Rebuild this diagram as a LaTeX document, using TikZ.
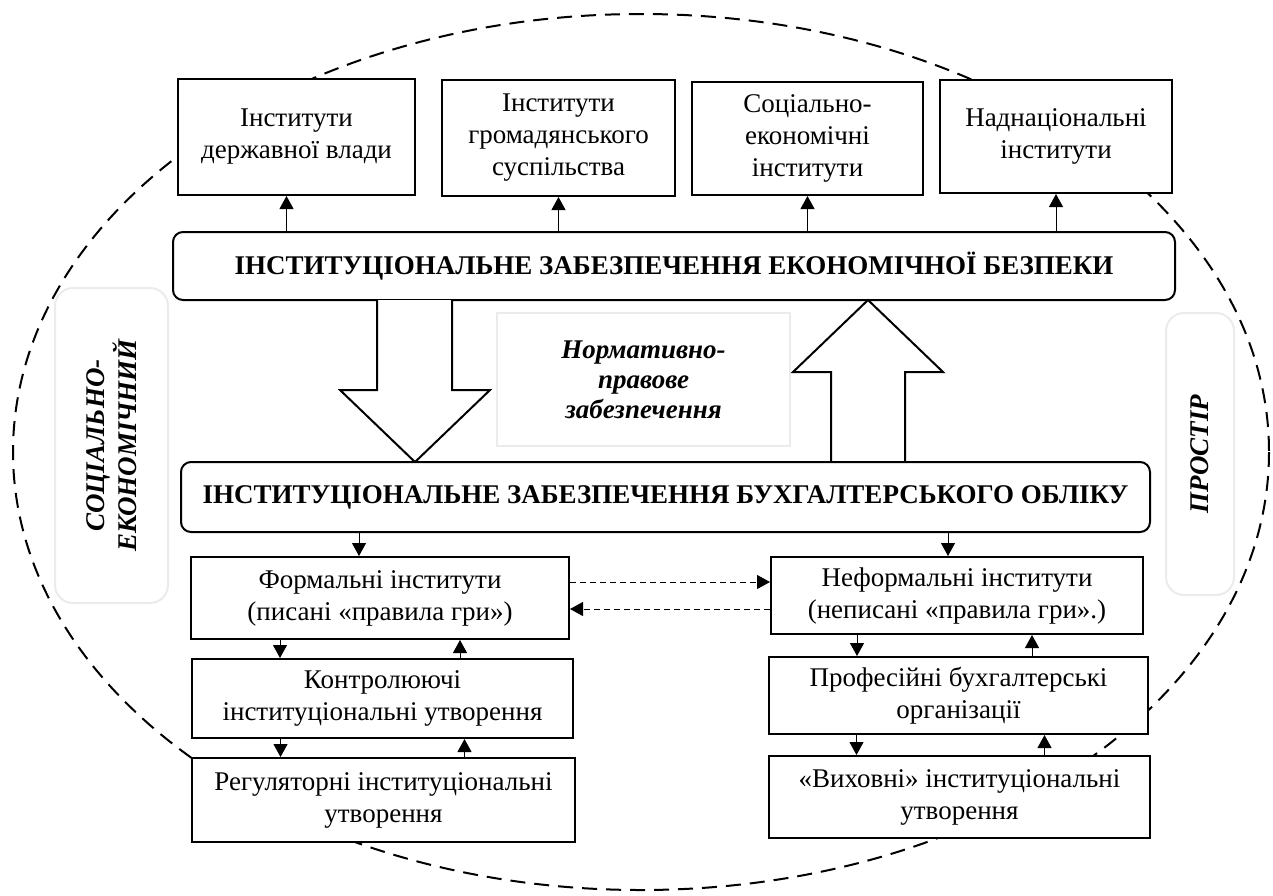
\documentclass[tikz,border=0pt]{standalone}
\usepackage{fontspec}
\setmainfont{Liberation Serif}
\usetikzlibrary{arrows.meta}
\newcommand{\boxfont}{\fontsize{13.5}{16}\selectfont}
\tikzset{
  ibox/.style={draw, line width=1pt, fill=white, align=center, inner sep=1pt, font=\boxfont},
  mainbox/.style={ibox, rounded corners=5pt, font=\boxfont\bfseries},
  sidebox/.style={draw=black!8, line width=1pt, rounded corners=9pt, align=center, inner sep=1pt,
    font=\boxfont\bfseries\itshape},
  arr/.style={-{Triangle[length=6.5pt,width=7pt]}, line width=0.5pt},
  darr/.style={arr, dash pattern=on 3pt off 2pt},
  hollow/.style={draw, fill=white, line width=1pt, line join=miter},
  ring/.style={line width=1pt, dash pattern=on 7.5pt off 4.5pt}
}
\begin{document}
\begin{tikzpicture}[x=0.5pt, y=-0.5pt]
    \useasboundingbox (0,0) rectangle (1273,895);
    % space around everything
    \draw[ring] (641,452) ellipse [x radius=628, y radius=438];
    \node[sidebox, rotate=90, minimum width=157.5pt, minimum height=56.5pt] (soc) at (111.5,445.5)
        {СОЦІАЛЬНО-\\ЕКОНОМІЧНИЙ};
    \node[sidebox, rotate=90, minimum width=141pt, minimum height=34pt] (space) at (1200,454) {ПРОСТІР};
    % upper level
    \node[ibox, minimum width=118.5pt, minimum height=58pt] (gov) at (296.5,137) {Інститути\\державної влади};
    \node[ibox, minimum width=116.5pt, minimum height=58pt] (civ) at (558.5,138) {Інститути\\громадянського\\суспільства};
    \node[ibox, minimum width=115.5pt, minimum height=56.5pt] (soec) at (807.5,138.5) {Соціально-\\економічні\\інститути};
    \node[ibox, minimum width=116pt, minimum height=56.5pt] (supra) at (1056,136.5) {Наднаціональні\\інститути};
    \node[mainbox, minimum width=501pt, minimum height=34pt] (eco) at (674,266)
        {ІНСТИТУЦІОНАЛЬНЕ ЗАБЕЗПЕЧЕННЯ ЕКОНОМІЧНОЇ БЕЗПЕКИ};
    \draw[arr] ([xshift=-5pt]gov.south |- eco.north) -- ([xshift=-5pt]gov.south);
    \draw[arr] (civ.south |- eco.north) -- (civ.south);
    \draw[arr] (soec.south |- eco.north) -- (soec.south);
    \draw[arr] (supra.south |- eco.north) -- (supra.south);
    % normative support
    \node[draw=black!8, line width=1.2pt, align=center, minimum width=146.5pt, minimum height=66.5pt,
        font=\fontsize{13.5}{15}\selectfont\bfseries\itshape] (norm) at (643.5,379.5)
        {Нормативно-\\правове\\забезпечення};
    \draw[hollow] (377,300) -- (377,390) -- (340,390) -- (415,462) -- (490,390) -- (452,390) -- (452,300);
    \draw[hollow] (831,461) -- (831,372) -- (793,372) -- (868,300) -- (943,372) -- (905,372) -- (905,461);
    % accounting level
    \node[mainbox, minimum width=484.5pt, minimum height=35pt] (acc) at (665.5,497)
        {ІНСТИТУЦІОНАЛЬНЕ ЗАБЕЗПЕЧЕННЯ БУХГАЛТЕРСЬКОГО ОБЛІКУ};
    \node[ibox, minimum width=189pt, minimum height=41pt] (form) at (380,598)
        {Формальні інститути\\(писані «правила гри»)};
    \node[ibox, minimum width=186pt, minimum height=38.5pt] (inform) at (957,595.5)
        {Неформальні інститути\\(неписані «правила гри».)};
    \draw[arr] ([xshift=-10.5pt]form.north |- acc.south) -- ([xshift=-10.5pt]form.north);
    \draw[arr] ([xshift=-4.5pt]inform.north |- acc.south) -- ([xshift=-4.5pt]inform.north);
    \draw[darr] ([yshift=8pt]form.east) -- ([yshift=8pt]form.east -| inform.west);
    \draw[darr] ([yshift=-5.5pt]form.east -| inform.west) -- ([yshift=-5.5pt]form.east);
    % formal branch
    \node[ibox, minimum width=190.5pt, minimum height=39.5pt] (ctrl) at (382.5,698.5)
        {Контролюючі\\інституціональні утворення};
    \node[ibox, minimum width=191.5pt, minimum height=42pt] (reg) at (383.5,800)
        {Регуляторні інституціональні\\утворення};
    \draw[arr] ([xshift=-50pt]form.south) -- ([xshift=-50pt]form.south |- ctrl.north);
    \draw[arr] ([xshift=40pt]form.south |- ctrl.north) -- ([xshift=40pt]form.south);
    \draw[arr] ([xshift=-51pt]ctrl.south) -- ([xshift=-51pt]ctrl.south |- reg.north);
    \draw[arr] ([xshift=41pt]ctrl.south |- reg.north) -- ([xshift=41pt]ctrl.south);
    % informal branch
    \node[ibox, minimum width=189.5pt, minimum height=38.5pt] (prof) at (958.5,695.5)
        {Професійні бухгалтерські\\організації};
    \node[ibox, minimum width=190.5pt, minimum height=41pt] (edu) at (959.5,797)
        {«Виховні» інституціональні\\утворення};
    \draw[arr] ([xshift=-50pt]inform.south) -- ([xshift=-50pt]inform.south |- prof.north);
    \draw[arr] ([xshift=37.5pt]inform.south |- prof.north) -- ([xshift=37.5pt]inform.south);
    \draw[arr] ([xshift=-51pt]prof.south) -- ([xshift=-51pt]prof.south |- edu.north);
    \draw[arr] ([xshift=43pt]prof.south |- edu.north) -- ([xshift=43pt]prof.south);
\end{tikzpicture}
\end{document}
